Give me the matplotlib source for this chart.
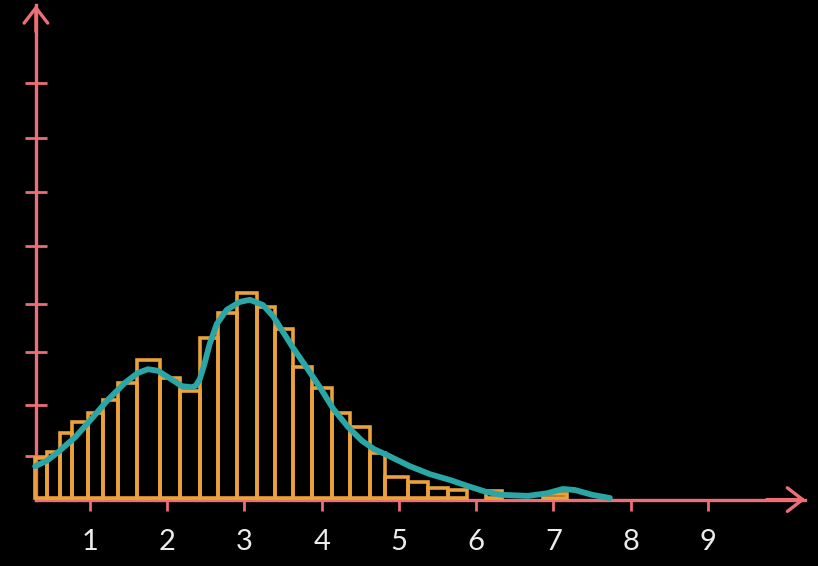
import numpy as np
import matplotlib
matplotlib.use('Agg')
import matplotlib.pyplot as plt

# hand drawn histogram with a density curve over it
# bar edges (left, right) and heights
bar_left = [0.29, 0.44, 0.61, 0.77, 0.97, 1.17, 1.36, 1.61, 1.91, 2.17,
            2.42, 2.66, 2.90, 3.16, 3.40, 3.63, 3.87, 4.13, 4.37, 4.63,
            4.82, 5.12, 5.38, 5.63, 6.13, 6.86]
bar_right = [0.44, 0.61, 0.77, 0.97, 1.17, 1.36, 1.61, 1.91, 2.17, 2.42,
             2.66, 2.90, 3.16, 3.40, 3.63, 3.87, 4.13, 4.37, 4.63, 4.82,
             5.12, 5.38, 5.63, 5.88, 6.33, 7.18]
bar_height = [0.75, 0.87, 1.23, 1.43, 1.60, 1.85, 2.17, 2.60, 2.26, 2.02,
              3.02, 3.49, 3.87, 3.60, 3.19, 2.47, 2.08, 1.60, 1.34, 0.85,
              0.40, 0.30, 0.19, 0.15, 0.13, 0.08]

# the teal curve
curve_x = [0.29, 0.44, 0.59, 0.81, 1.03, 1.23, 1.45, 1.62, 1.75, 1.88,
           2.01, 2.19, 2.32, 2.37, 2.42, 2.48, 2.55, 2.64, 2.77, 2.94, 3.07,
           3.24, 3.37, 3.50, 3.63, 3.81, 3.98, 4.15, 4.34, 4.52, 4.68, 4.86,
           5.14, 5.40, 5.66, 5.88, 6.14, 6.33, 6.67, 6.92, 7.12, 7.28,
           7.50, 7.73]
curve_y = [0.60, 0.70, 0.87, 1.15, 1.51, 1.85, 2.17, 2.36, 2.43, 2.40,
           2.28, 2.11, 2.09, 2.12, 2.24, 2.52, 2.91, 3.28, 3.55, 3.70, 3.74,
           3.64, 3.43, 3.13, 2.83, 2.45, 2.08, 1.68, 1.34, 1.08, 0.92, 0.80,
           0.60, 0.45, 0.34, 0.23, 0.11, 0.06, 0.04, 0.09, 0.17, 0.15,
           0.06, 0.0]

x_ticks = [1, 2, 3, 4, 5, 6, 7, 8, 9]
x_labels = ['1', '2', '3', '4', '5', '6', '7', '8', '9']
y_ticks = [0.79, 1.75, 2.75, 3.66, 4.75, 5.77, 6.79, 7.83]

pink = '#ec6f78'
orange = '#eba23a'
teal = '#2aa6a6'

fig = plt.figure(figsize=(8.18, 5.66), dpi=100, facecolor='black')
ax = fig.add_axes([0, 0, 1, 1])
ax.set_facecolor('black')
ax.set_xlim(-0.165, 10.424)
ax.set_ylim(-1.283, 9.396)

widths = np.array(bar_right) - np.array(bar_left)
ax.bar(bar_left, bar_height, width=widths, align='edge', fill=False,
       edgecolor=orange, linewidth=2.6, zorder=3)
ax.plot(curve_x, curve_y, color=teal, linewidth=4.2, solid_capstyle='round',
        solid_joinstyle='round', zorder=4)

# axes drawn like the sketch
y_axis_x = 0.30
x_axis_y = -0.03
x_end = 10.26
y_end = 9.30
for side in ['top', 'right']:
    ax.spines[side].set_visible(False)
ax.spines['left'].set_position(('data', y_axis_x))
ax.spines['bottom'].set_position(('data', x_axis_y))
ax.spines['left'].set_bounds(x_axis_y, y_end)
ax.spines['bottom'].set_bounds(y_axis_x, x_end)
for side in ['left', 'bottom']:
    ax.spines[side].set_color(pink)
    ax.spines[side].set_linewidth(2.4)

ax.set_xticks(x_ticks)
ax.set_xticklabels(x_labels, fontfamily=['Lato', 'DejaVu Sans'])
ax.set_yticks(y_ticks)
ax.tick_params(axis='x', direction='out', length=8, width=2, color=pink,
               labelcolor='#ececec', labelsize=21, pad=13)
ax.tick_params(axis='y', direction='inout', length=16, width=2, color=pink,
               labelleft=False)

head = '->,head_length=1.1,head_width=0.85'
ax.annotate('', xy=(y_axis_x, y_end), xytext=(y_axis_x, y_end - 0.5),
            arrowprops=dict(arrowstyle=head, color=pink, lw=2.4,
                            shrinkA=0, shrinkB=0))
ax.annotate('', xy=(x_end, x_axis_y), xytext=(x_end - 0.5, x_axis_y),
            arrowprops=dict(arrowstyle=head, color=pink, lw=2.4,
                            shrinkA=0, shrinkB=0))

fig.savefig('out.png', dpi=100, facecolor='black')
